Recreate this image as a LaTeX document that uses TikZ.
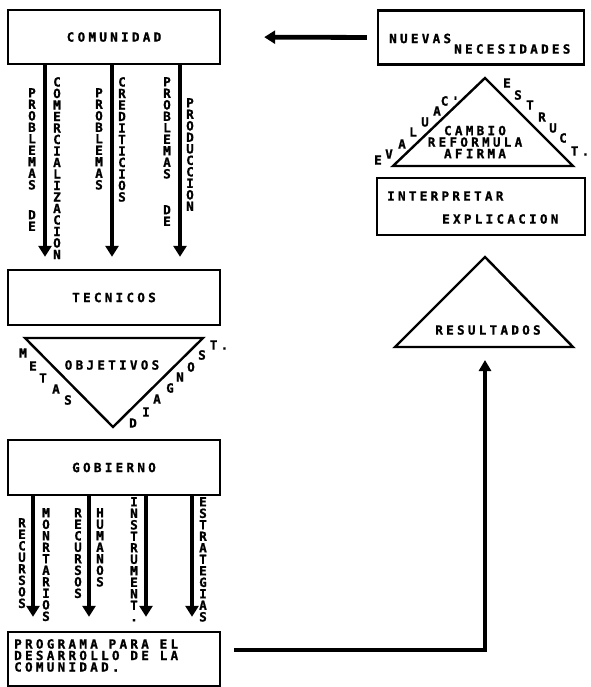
\documentclass[tikz,border=0pt]{standalone}
\usepackage{fontspec}
\newfontfamily\dotfont[LetterSpace=26, FakeBold=1.2, UprightFont={DejaVu Sans Mono Bold}, BoldFont={DejaVu Sans Mono Bold}]{DejaVu Sans Mono}
\usetikzlibrary{arrows.meta,calc}
\newcommand{\dotsize}{\dotfont\fontsize{12.6}{11.5}\selectfont}

\tikzset{
  box/.style={draw, line width=2.4pt, minimum width=212pt, minimum height=54pt, inner sep=0pt, font=\dotsize},
  txt/.style={font=\dotsize, inner sep=0pt},
  vstack/.style={txt, align=center, anchor=north},
  sidelet/.style={font=\dotsize, inner sep=0pt},
  bigarrow/.style={line width=4.8pt, -{Triangle[length=11pt,width=13pt]}},
  tri/.style={line width=2.4pt, line join=miter},
}

\begin{document}
\begin{tikzpicture}[x=1pt, y=-1pt]
  \useasboundingbox (0,0) rectangle (590,687);

  % left column boxes
  \node[box] (comunidad) at (114,37) {COMUNIDAD};
  \node[box, minimum height=55pt] (tecnicos) at (114,297.5) {TECNICOS};
  \node[box, minimum height=55pt] (gobierno) at (114,467.5) {GOBIERNO};
  \node[box] (programa) at (114,659) {};
  \node[txt, align=left, anchor=north west] (programa-txt) at (14,639)
    {PROGRAMA PARA EL\\DESARROLLO DE LA\\COMUNIDAD.};

  % right column boxes
  \node[box, minimum width=206pt] (nuevas) at (481,37.5) {};
  \node[txt, anchor=west] (nuevas-a) at (389,38.5) {NUEVAS};
  \node[txt, anchor=west] (nuevas-b) at (454,49) {NECESIDADES};
  \node[box, minimum width=208pt, minimum height=57pt] (interp) at (481,206.5) {};
  \node[txt, anchor=west] (interp-a) at (387,196) {INTERPRETAR};
  \node[txt, anchor=west] (interp-b) at (442,219) {EXPLICACION};

  % comunidad -> tecnicos
  \foreach \dx in {-69,-2,66}
    \draw[bigarrow, shorten >=12pt] ([xshift=\dx pt]comunidad.south) -- ([xshift=\dx pt]tecnicos.north);
  \node[vstack] (pc-a) at (32,88) {P\\R\\O\\B\\L\\E\\M\\A\\S};
  \node[vstack] (pc-b) at (32,210) {D\\E};
  \node[vstack] (pc-c) at (57,77) {C\\O\\M\\E\\R\\C\\I\\A\\L\\I\\Z\\A\\C\\I\\O\\N};
  \node[vstack] (pcr-a) at (99,88) {P\\R\\O\\B\\L\\E\\M\\A\\S};
  \node[vstack] (pcr-b) at (122,77) {C\\R\\E\\D\\I\\T\\I\\C\\I\\O\\S};
  \node[vstack] (pp-a) at (167,77) {P\\R\\O\\B\\L\\E\\M\\A\\S};
  \node[vstack] (pp-b) at (167,205) {D\\E};
  \node[vstack] (pp-c) at (190,98) {P\\R\\O\\D\\U\\C\\C\\I\\O\\N};

  % objetivos triangle
  \coordinate (obj-l) at (25,338);
  \coordinate (obj-r) at (203,338);
  \coordinate (obj-b) at (113,427);
  \draw[tri] (obj-l) -- (obj-r) -- (obj-b) -- cycle;
  \node[txt] (objetivos) at (112,365) {OBJETIVOS};
  \foreach \l/\x/\y [count=\i] in {M/23/353, E/33/366, T/43/378, A/56/389, S/68/400}
    \node[sidelet] (metas-\i) at (\x,\y) {\l};
  \foreach \l/\x/\y [count=\i] in {D/133/423, I/146/412, A/157/399, G/170/388, N/180/377, O/191/367, S/202/355, T./219/345}
    \node[sidelet] (diag-\i) at (\x,\y) {\l};

  % gobierno -> programa
  \foreach \dx in {-81,-25,32,78}
    \draw[bigarrow, shorten >=14pt] ([xshift=\dx pt]gobierno.south) -- ([xshift=\dx pt]programa.north);
  \node[vstack] (rm-a) at (22,518) {R\\E\\C\\U\\R\\S\\O\\S};
  \node[vstack] (rm-b) at (46,508) {M\\O\\N\\R\\T\\A\\R\\I\\O\\S};
  \node[vstack] (rh-a) at (78,508) {R\\E\\C\\U\\R\\S\\O\\S};
  \node[vstack] (rh-b) at (100,508) {H\\U\\M\\A\\N\\O\\S};
  \node[vstack] (instr) at (134,497) {I\\N\\S\\T\\R\\U\\M\\E\\N\\T\\.};
  \node[vstack] (estr) at (203,497) {E\\S\\T\\R\\A\\T\\E\\G\\I\\A\\S};

  % resultados triangle
  \coordinate (res-top) at (485,257);
  \coordinate (res-l) at (395,347);
  \coordinate (res-r) at (573,347);
  \coordinate (res-mid) at (485,347);
  \draw[tri] (res-top) -- (res-r) -- (res-l) -- cycle;
  \node[txt] (resultados) at (488,330) {RESULTADOS};
  \draw[line width=4.2pt, -{Triangle[length=11pt,width=12pt]}, shorten <=13pt, shorten >=13pt]
    ([yshift=9pt]programa.east) -| (res-mid);

  % evaluacion triangle
  \coordinate (ev-top) at (485,78);
  \coordinate (ev-l) at (393,166);
  \coordinate (ev-r) at (573,166);
  \draw[tri] (ev-top) -- (ev-r) -- (ev-l) -- cycle;
  \node[txt, align=center] (cambio) at (475,142) {CAMBIO\\REFORMULA\\AFIRMA};
  \foreach \l/\x/\y [count=\i] in {E/378/160, V/389/154, A/402/144, L/413/132, U/425/122, A/437/111, C'/450/101}
    \node[sidelet] (eval-\i) at (\x,\y) {\l};
  \foreach \l/\x/\y [count=\i] in {E/507/83, S/518/95, T/530/105, R/542/117, U/553/128, C/563/138, T./580/151}
    \node[sidelet] (estr-\i) at (\x,\y) {\l};

  % nuevas -> comunidad
  \draw[bigarrow, shorten <=10pt, shorten >=43pt] (nuevas.west) -- (comunidad.east);
\end{tikzpicture}
\end{document}
